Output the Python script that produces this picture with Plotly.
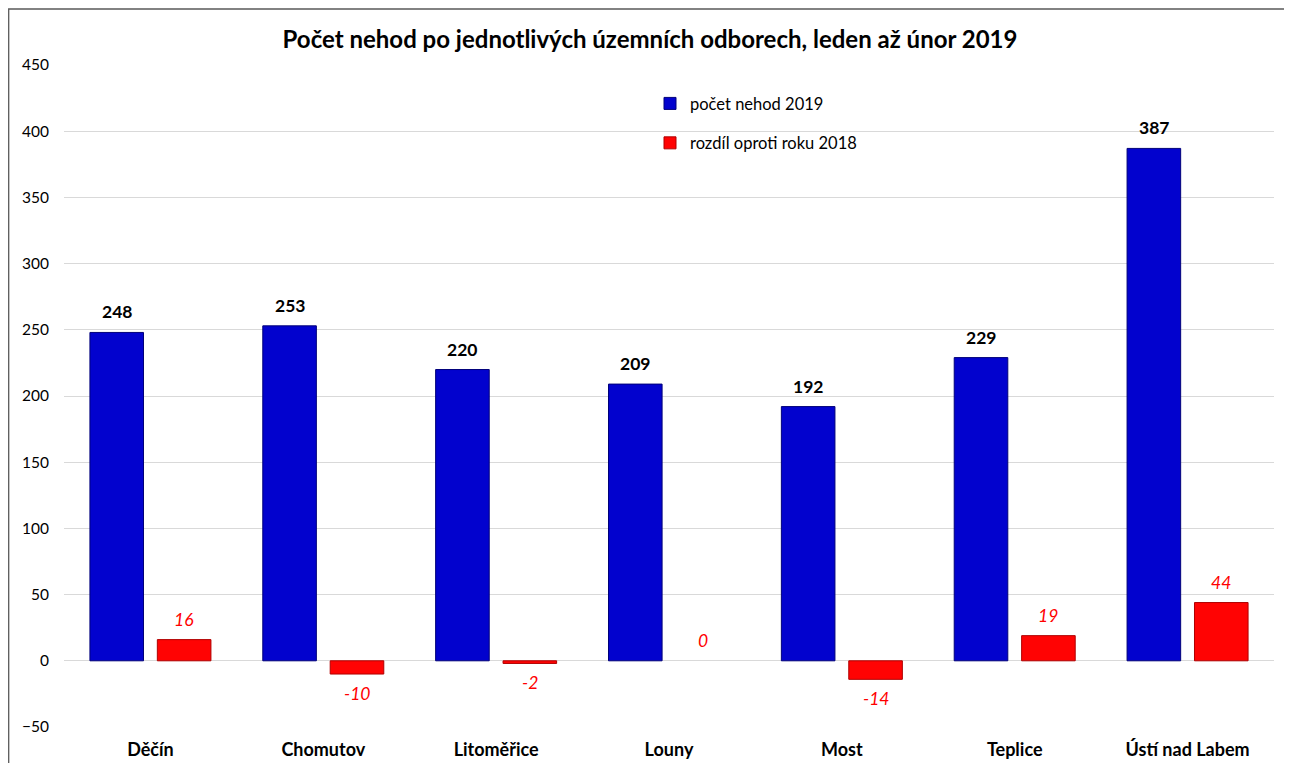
import plotly.graph_objects as go

categories = ["Děčín", "Chomutov", "Litoměřice", "Louny", "Most", "Teplice", "Ústí nad Labem"]
nehody_2019 = [248, 253, 220, 209, 192, 229, 387]
rozdil_2018 = [16, -10, -2, 0, -14, 19, 44]
series_names = ["počet nehod 2019", "rozdíl oproti roku 2018"]
title_text = "Počet nehod po jednotlivých územních odborech, leden až únor 2019"
y_ticks = [-50, 0, 50, 100, 150, 200, 250, 300, 350, 400, 450]

FONT = "Lato, 'Open Sans', sans-serif"
BLUE = "#0202CE"
RED = "#FF0303"

# page body has an 8px margin; figure sized to fit window
W, H = 1284, 755
L, R, T, B = 56, 18, 57, 36
PW = W - L - R
PH = H - T - B
CAT_PX = PW / len(categories)

fig = go.Figure()
fig.add_trace(go.Bar(
    x=categories, y=nehody_2019, name=series_names[0],
    width=0.31, offset=-0.35,
    marker=dict(color=BLUE, line=dict(color="#00007A", width=1)),
    legendgroup="a",
))
fig.add_trace(go.Bar(
    x=categories, y=rozdil_2018, name=series_names[1],
    width=0.31, offset=0.04,
    marker=dict(color=RED, line=dict(color="#B00000",
                                     width=[1 if v != 0 else 0 for v in rozdil_2018])),
    legendgroup="b",
))

annotations = []
for i, v in enumerate(nehody_2019):
    annotations.append(dict(
        x=i, y=v, xref="x", yref="y", text=f"<b>{v}</b>", showarrow=False,
        xshift=-(0.35 - 0.155) * CAT_PX, yanchor="bottom", yshift=8,
        font=dict(family=FONT, size=17.5, color="black"),
    ))
for i, v in enumerate(rozdil_2018):
    neg = v < 0
    annotations.append(dict(
        x=i, y=v, xref="x", yref="y", text=f"<i>{v}</i>", showarrow=False,
        xshift=(0.04 + 0.155) * CAT_PX,
        yanchor="top" if neg else "bottom", yshift=-7 if neg else 8,
        font=dict(family=FONT, size=17.5, color="#FF0000"),
    ))

fig.update_layout(
    width=W, height=H,
    margin=dict(l=L, r=R, t=T, b=B, autoexpand=False),
    paper_bgcolor="white", plot_bgcolor="white",
    font=dict(family=FONT, size=15, color="#000000"),
    title=dict(text=f"<b>{title_text}</b>", x=(650 - 8) / W, xanchor="center",
               y=1 - 32 / H, yanchor="middle",
               font=dict(family=FONT, size=24, color="black")),
    showlegend=True,
    legend=dict(x=(642 - L) / PW, y=0.968, xanchor="left", yanchor="top", bgcolor="rgba(0,0,0,0)",
                font=dict(family=FONT, size=16.5, color="#000000"), tracegroupgap=15,
                traceorder="grouped", itemwidth=30),
    annotations=annotations,
    barmode="overlay",
    shapes=[dict(type="rect", xref="paper", yref="paper",
                 x0=(0.7 - L) / PW, x1=(W + 30 - L) / PW,
                 y0=-0.2, y1=(PH + T - 1) / PH,
                 line=dict(color="#595959", width=1.3), layer="below")],
)
fig.update_xaxes(
    type="category", range=[-0.5, 6.5], showgrid=False, zeroline=False, showline=False,
    ticks="", ticklabelstandoff=10, automargin=False,
    tickfont=dict(family=FONT, size=18, color="black", weight="bold"),
)
fig.update_yaxes(
    range=[-50, 450], tickvals=y_ticks, showgrid=True, gridcolor="#D9D9D9", gridwidth=1.3,
    zeroline=True, zerolinecolor="#D9D9D9", zerolinewidth=1.3, showline=False,
    ticks="", ticklabelstandoff=14, automargin=False,
    tickfont=dict(family=FONT, size=15.5, color="#000000"),
)

fig.write_html("out.html")
